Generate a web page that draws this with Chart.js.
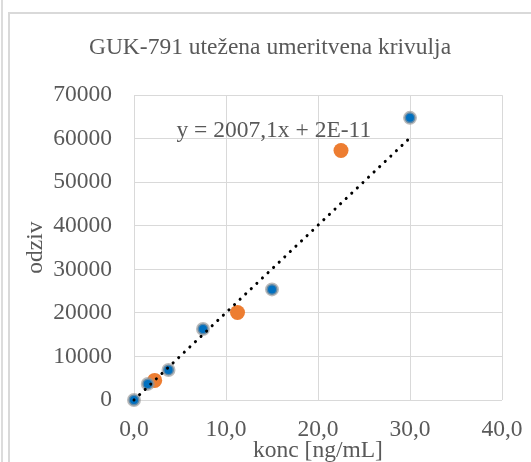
<!DOCTYPE html>
<html>
<head>
<meta charset="utf-8">
<script src="https://cdn.jsdelivr.net/npm/chart.js@4.4.1/dist/chart.umd.min.js"></script>
<style>
  html, body { margin: 0; padding: 0; background: #fff; }
  body { width: 531px; height: 462px; position: relative; overflow: hidden; }
  #cell { position: absolute; left: 1px; top: 0; width: 2px; height: 462px; background: #dcdcdc; }
  #frame { position: absolute; left: 8px; top: 12px; width: 540px; height: 470px;
           border-left: 2px solid #d9d9d9; border-top: 2px solid #d9d9d9; }
  #wrap { position: absolute; left: 0; top: 0; width: 531px; height: 462px; }
</style>
</head>
<body>
<div id="cell"></div>
<div id="frame"></div>
<div id="wrap"><canvas id="chart" width="531" height="462"></canvas></div>
<script>
const titleText = "GUK-791 utežena umeritvena krivulja";
const xTitle = "konc [ng/mL]";
const yTitle = "odziv";

// blue points (standards)
const blueX = [0, 1.5, 3.75, 7.5, 15, 30];
const blueY = [0, 3700, 6900, 16300, 25400, 64800];

// orange points
const orangeX = [2.25, 11.25, 22.5];
const orangeY = [4500, 20100, 57300];

// linear trendline from the equation in the picture
const slope = 2007.1;
const intercept = 2e-11;
const trendX = [0, 30];
const equationText = "y = 2007,1x + 2E-11";

const toPoints = (xs, ys) => xs.map((x, i) => ({ x: x, y: ys[i] }));

const grey = "#595959";
const serif = "'Liberation Serif', 'Times New Roman', serif";
const fontSize = 23.5;

// center the title over the whole chart frame, not only over the plot boxes
const titleSpan = {
  id: "titleSpan",
  afterLayout(chart) {
    if (chart.titleBlock) {
      chart.titleBlock.left = 9;
      chart.titleBlock.right = 531;
    }
  },
};

const equationLabel = {
  id: "equationLabel",
  afterDatasetsDraw(chart) {
    const { ctx, scales } = chart;
    ctx.save();
    ctx.font = fontSize + "px " + serif;
    ctx.fillStyle = grey;
    ctx.textAlign = "center";
    ctx.textBaseline = "alphabetic";
    ctx.fillText(equationText, scales.x.getPixelForValue(15.2), scales.y.getPixelForValue(60300));
    ctx.restore();
  },
};

new Chart(document.getElementById("chart"), {
  type: "scatter",
  plugins: [titleSpan, equationLabel],
  data: {
    datasets: [
      {
        type: "line",
        label: "trend",
        data: trendX.map((x) => ({ x: x, y: slope * x + intercept })),
        borderColor: "#000000",
        borderWidth: 3,
        borderDash: [0.1, 7.6],
        borderCapStyle: "round",
        pointRadius: 0,
        fill: false,
        clip: 10,
      },
      {
        label: "blue",
        data: toPoints(blueX, blueY),
        backgroundColor: "#0070C0",
        borderColor: "rgba(150,150,150,0.65)",
        borderWidth: 3,
        pointRadius: 5.5,
        clip: 10,
      },
      {
        label: "orange",
        data: toPoints(orangeX, orangeY),
        backgroundColor: "#ED7D31",
        borderWidth: 0,
        pointRadius: 7.5,
        clip: 10,
      },
    ],
  },
  options: {
    responsive: false,
    animation: false,
    layout: { padding: { left: 0, right: 29, top: 0, bottom: 0 } },
    plugins: {
      legend: { display: false },
      tooltip: { enabled: false },
      title: {
        display: true,
        text: titleText,
        color: grey,
        font: { family: serif, size: fontSize, weight: "normal" },
        padding: { top: 34, bottom: 33 },
      },
    },
    scales: {
      x: {
        type: "linear",
        min: 0,
        max: 40,
        afterFit: (scale) => {
          scale.height = 62;
          scale.paddingRight = 0;
        },
        ticks: {
          stepSize: 10,
          color: grey,
          padding: 16,
          font: { family: serif, size: fontSize },
          callback: (v) => v.toFixed(1).replace(".", ","),
        },
        grid: { color: "#d9d9d9", lineWidth: 1, drawTicks: false },
        border: { display: false },
        title: {
          display: true,
          text: xTitle,
          color: grey,
          font: { family: serif, size: fontSize },
          padding: { top: 0, bottom: -2.5 },
        },
      },
      y: {
        min: 0,
        max: 70000,
        afterFit: (scale) => { scale.width = 134; },
        ticks: {
          stepSize: 10000,
          color: grey,
          padding: 22,
          font: { family: serif, size: fontSize },
          callback: (v) => String(v),
        },
        grid: { color: "#d9d9d9", lineWidth: 1, drawTicks: false },
        border: { display: false },
        title: {
          display: true,
          text: yTitle,
          color: grey,
          font: { family: serif, size: fontSize },
          padding: { top: 22, bottom: 0 },
        },
      },
    },
  },
});
</script>
</body>
</html>
